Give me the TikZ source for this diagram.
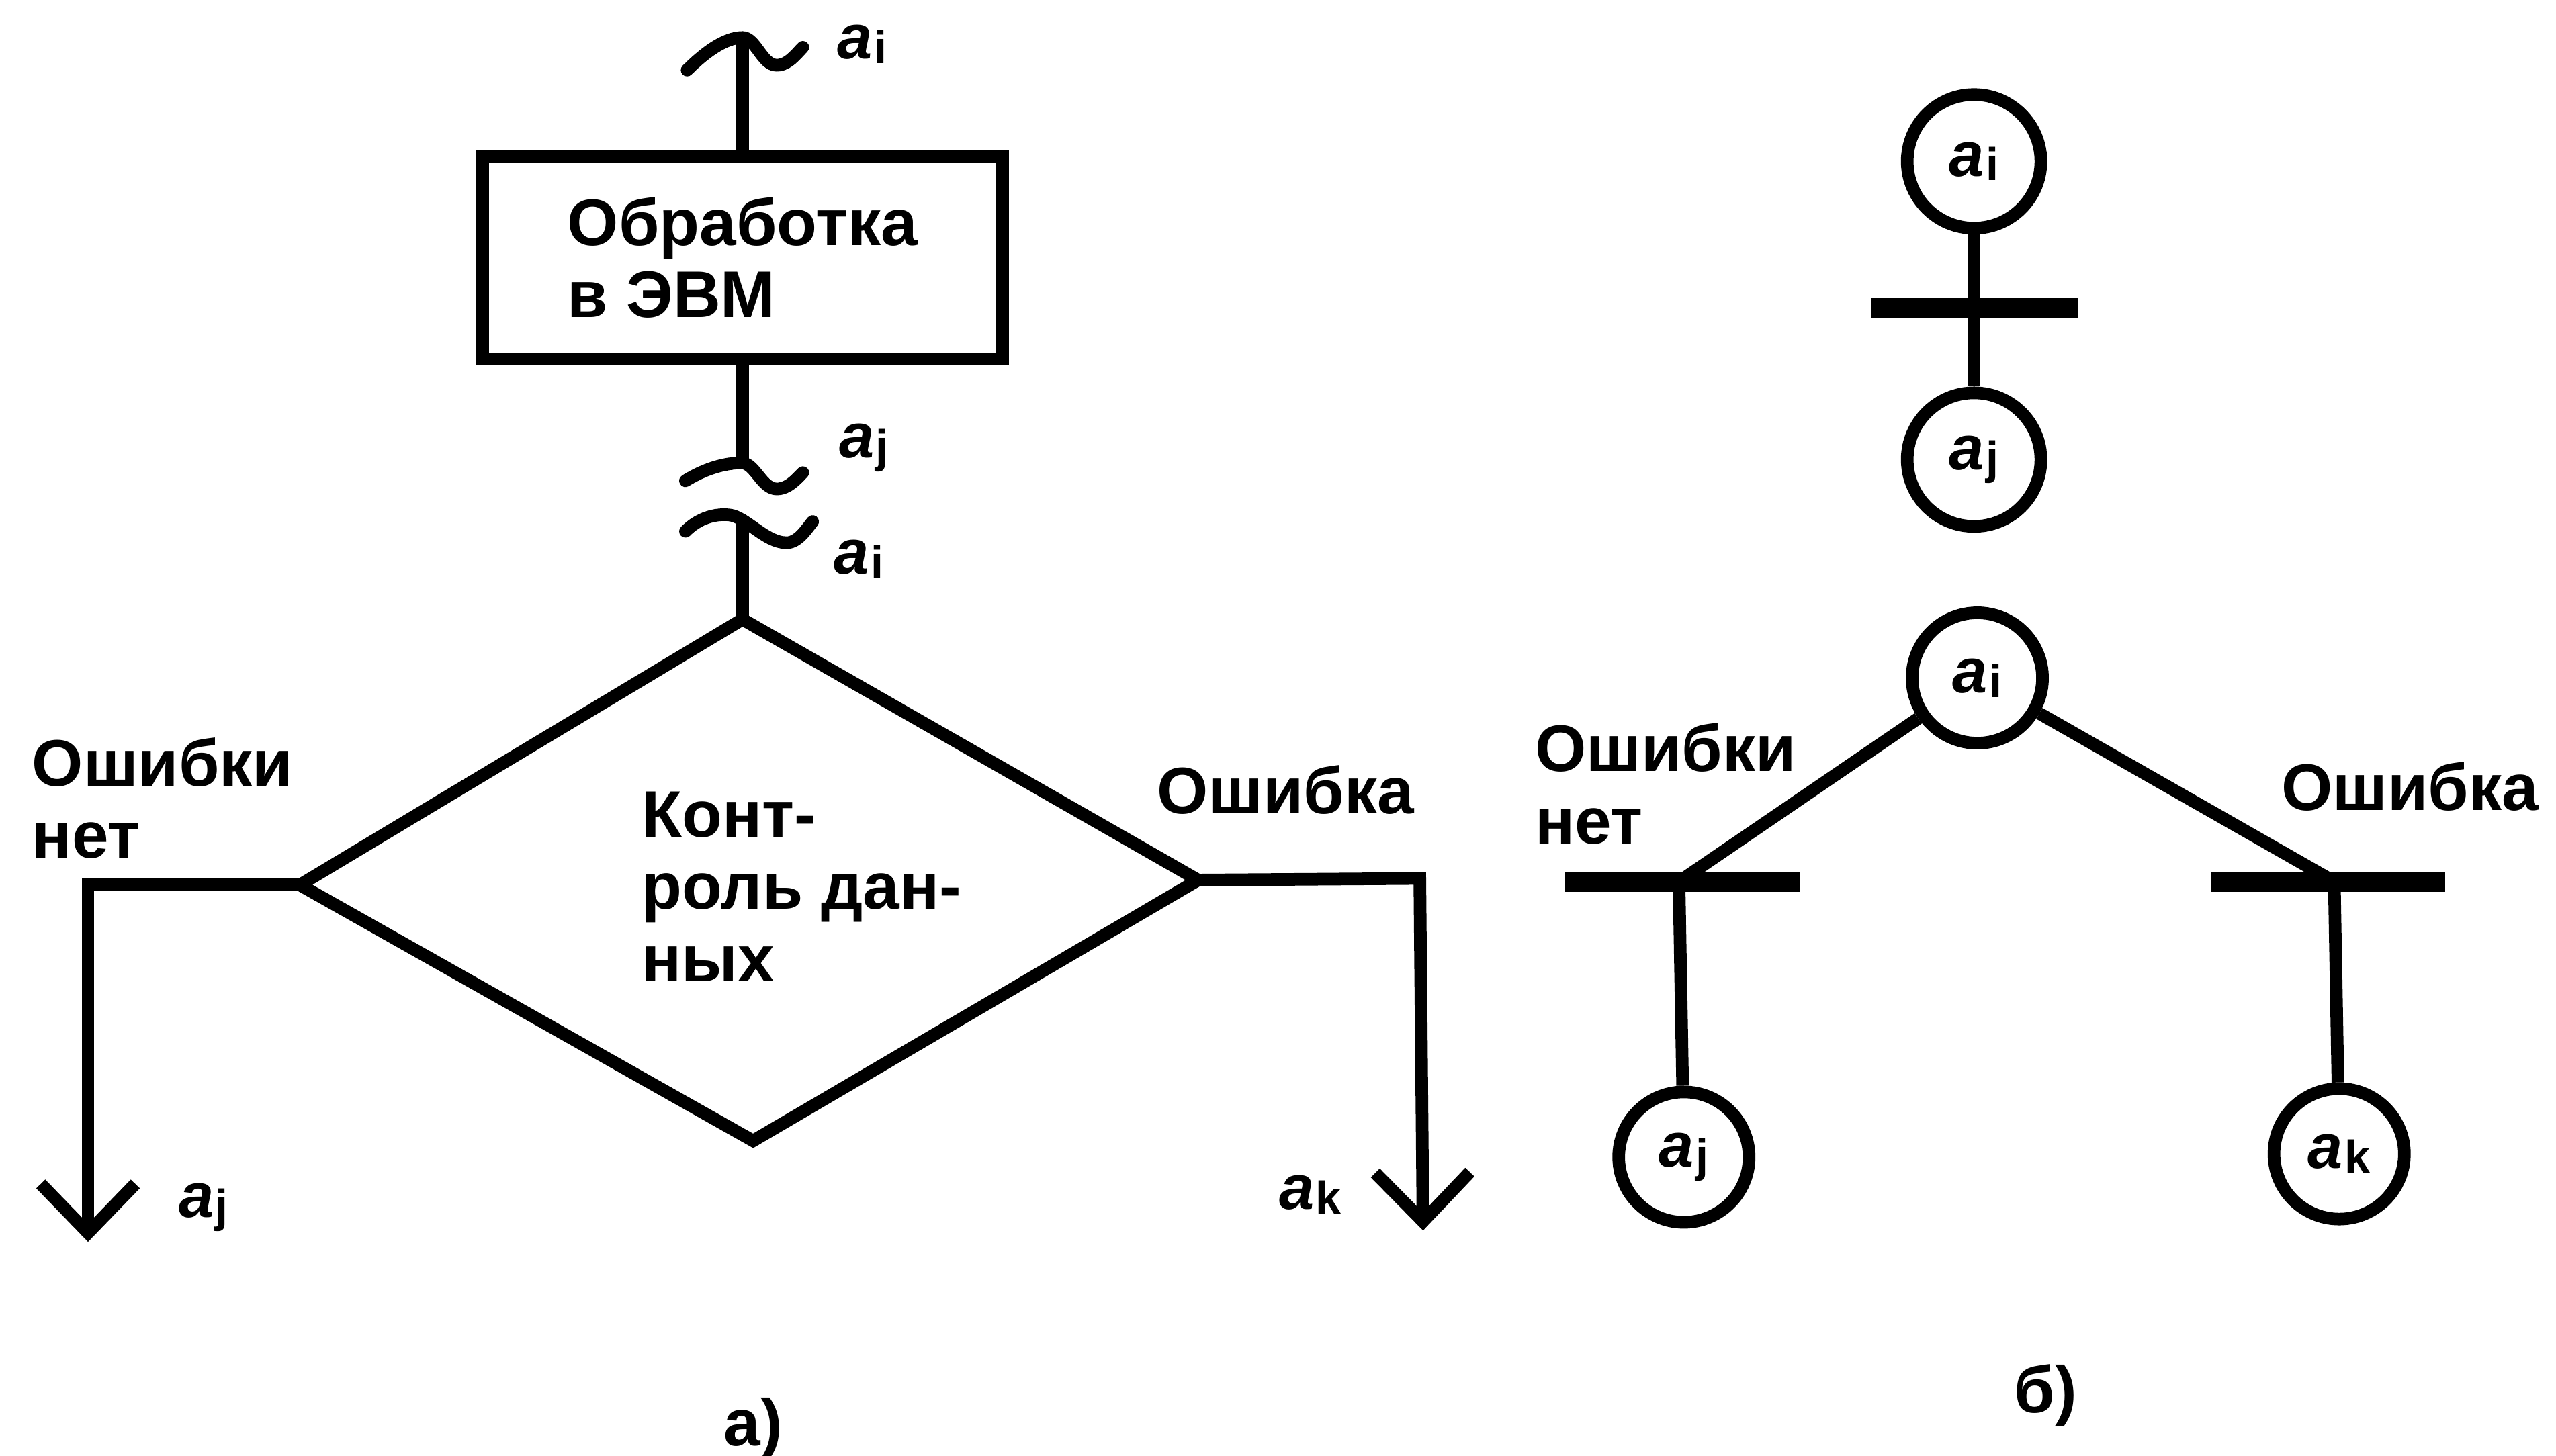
\documentclass[tikz,border=0pt]{standalone}
\usepackage{fontspec}
\setmainfont{Liberation Sans}
\usetikzlibrary{arrows.meta}
\newcommand{\alab}[1]{{\fontsize{11}{12}\selectfont\bfseries\itshape a}\kern0.3pt\raisebox{-0.8pt}{\fontsize{8}{9}\selectfont\bfseries #1}}
\begin{document}
\begin{tikzpicture}[x=0.1mm,y=-0.1mm,
  ln/.style={line width=2.2pt},
  wv/.style={line width=2.2pt,line cap=round},
  barline/.style={line width=3.6pt},
  txt/.style={font=\fontsize{11.5}{12.6}\selectfont\bfseries,inner sep=0pt,align=left},
  lab/.style={inner sep=0pt,anchor=base west},
  stelle/.style={circle,draw,line width=2.2pt,minimum size=8.0mm,inner sep=0pt},
  arr/.style={line width=2.2pt,-{Straight Barb[length=3mm,width=5.8mm]}}]
\useasboundingbox (0,0) rectangle (1568,893);

% ---------- a) flowchart ----------
\node[draw,ln,minimum width=31.9mm,minimum height=12.4mm,txt] (box) at (455.5,158) {Обработка\\в ЭВМ};

\coordinate (w1) at (455.5,23);
\coordinate (w2) at (455.5,284);
\coordinate (w3) at (455.5,321);
\draw[wv,shift={(w1)}] (-34,20) .. controls (-22,8) and (-10,0) .. (0,0) .. controls (8,0) and (12,17) .. (21,17) .. controls (28,17) and (33,10) .. (37,6);
\draw[wv,shift={(w2)}] (-35,11) .. controls (-22,3) and (-10,0) .. (0,0) .. controls (8,1) and (12,16) .. (21,16) .. controls (28,16) and (33,10) .. (37,6);
\draw[wv,shift={(w3)}] (-35,5) .. controls (-27,-3) and (-17,-6) .. (-8,-5) .. controls (2,-4) and (14,12) .. (27,12) .. controls (34,12) and (39,4) .. (43,-1);

\draw[ln] (box.north) -- (w1);
\draw[ln] (box.south) -- (w2);

\coordinate (dt) at (455.5,380);
\coordinate (dl) at (184,543);
\coordinate (dr) at (735,540);
\coordinate (db) at (462,700);
\draw[ln,line join=miter] (dt) -- (dr) -- (db) -- (dl) -- cycle;
\draw[ln] (w3) -- (dt);

\node[txt,anchor=north west] (dtext) at (393,485) {Конт-\\роль дан-\\ных};

\coordinate (lc) at (54,543);
\coordinate (le) at (54,762);
\draw[arr,line join=miter] (dl) -- (lc) -- (le);
\coordinate (rc) at (871,539);
\coordinate (re) at (873,755);
\draw[arr,line join=miter] (dr) -- (rc) -- (re);

\node[txt,anchor=north west] (noerrL) at (19,452) {Ошибки\\нет};
\node[txt,anchor=north west] (errL) at (709,469) {Ошибка};

\node[lab] (la1) at (513,36) {\alab{i}};
\node[lab] (la2) at (514,281) {\alab{j}};
\node[lab] (la3) at (511,352) {\alab{i}};
\node[lab] (la4) at (109,747) {\alab{j}};
\node[lab] (la5) at (784,742) {\alab{k}};

\node[txt,anchor=base] (capa) at (462,887) {а)};

% ---------- b) net ----------
\node[stelle,minimum size=8.2mm] (p1) at (1211,99) {\alab{i}};
\node[stelle,minimum size=8.2mm] (p2) at (1211,282) {\alab{j}};
\coordinate (t1l) at (1148,189);
\coordinate (t1r) at (1275,189);
\draw[ln] (p1) -- (p2);
\draw[barline] (t1l) -- (t1r);

\node[stelle] (p3) at (1213,416) {\alab{i}};
\coordinate (tl) at (1030,541);
\coordinate (tll) at (960,541);
\coordinate (tlr) at (1104,541);
\coordinate (tr) at (1432,541);
\coordinate (trl) at (1356,541);
\coordinate (trr) at (1500,541);
\node[stelle] (p4) at (1033,710) {\alab{j}};
\node[stelle] (p5) at (1435,708) {\alab{k}};
\draw[ln] (p3) -- (tl);
\draw[ln] (p3) -- (tr);
\draw[ln] (tl) -- (p4);
\draw[ln] (tr) -- (p5);
\draw[barline] (tll) -- (tlr);
\draw[barline] (trl) -- (trr);

\node[txt,anchor=north west] (noerrR) at (941,443) {Ошибки\\нет};
\node[txt,anchor=north west] (errR) at (1399,467) {Ошибка};

\node[txt,anchor=base] (capb) at (1255,867) {б)};
\end{tikzpicture}
\end{document}
